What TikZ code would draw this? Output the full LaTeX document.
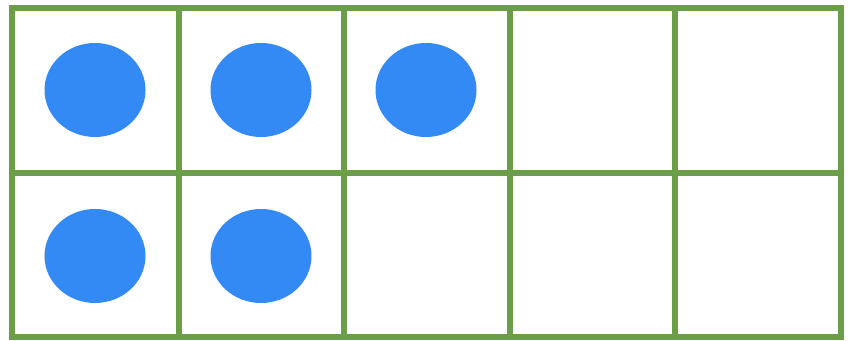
\documentclass[tikz,border=0pt]{standalone}
\usetikzlibrary{shapes.geometric}
\definecolor{framegreen}{RGB}{106,159,72}
\definecolor{dotblue}{RGB}{52,138,245}
\tikzset{
  gridline/.style={draw=framegreen, line width=4.6pt, line cap=rect},
  counter/.style={ellipse, fill=dotblue, draw=none, minimum width=101*0.75pt, minimum height=94*0.75pt, inner sep=0pt}
}
\begin{document}
\begin{tikzpicture}[x=0.75pt,y=-0.75pt]
\useasboundingbox (0,0) rectangle (854,341);
\fill[white] (0,0) rectangle (854,341);
% counters
\node[counter] (c1) at (95,90) {};
\node[counter] (c2) at (261,90) {};
\node[counter] (c3) at (426,90) {};
\node[counter] (c4) at (95,256) {};
\node[counter] (c5) at (261,256) {};
% frame
\draw[gridline] (12,8) rectangle (841,337);
\draw[gridline] (12,173) -- (841,173);
\foreach \x in {179,344,510,675} {
  \draw[gridline] (\x,8) -- (\x,337);
}
\end{tikzpicture}
\end{document}
